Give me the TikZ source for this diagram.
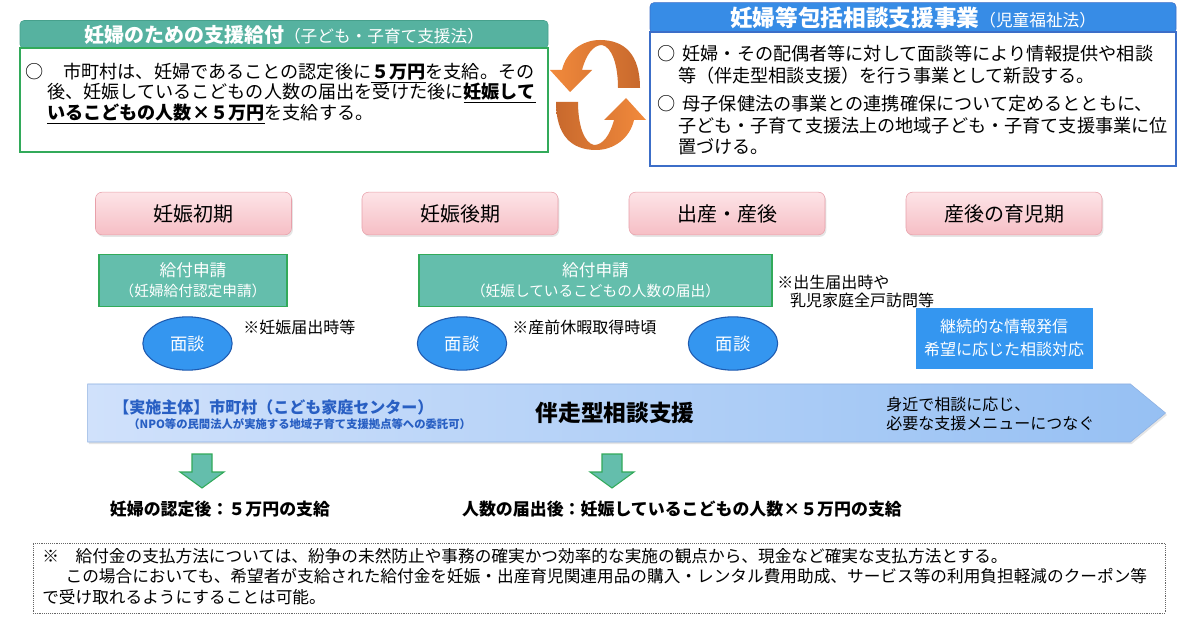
\documentclass[tikz,border=0pt]{standalone}
\usepackage{tikz}
\usepackage{xcolor}
\usepackage{fontspec}
\setmainfont{Noto Sans CJK JP}
\usetikzlibrary{calc}
\usetikzlibrary{shapes}
\usetikzlibrary{shadows}

\definecolor{tealhead}{RGB}{86,178,160}
\definecolor{tealline}{RGB}{70,160,140}
\definecolor{greenline}{RGB}{50,170,90}
\definecolor{bluehead}{RGB}{55,140,230}
\definecolor{blueline}{RGB}{60,110,200}
\definecolor{pinktop}{RGB}{253,228,231}
\definecolor{pinkbot}{RGB}{246,190,197}
\definecolor{pinkline}{RGB}{232,160,170}
\definecolor{applyfill}{RGB}{100,190,172}
\definecolor{talkfill}{RGB}{52,150,240}
\definecolor{talkline}{RGB}{30,90,175}
\definecolor{flowleft}{RGB}{208,225,251}
\definecolor{flowright}{RGB}{150,192,243}
\definecolor{flowline}{RGB}{140,175,225}
\definecolor{bluetext}{RGB}{40,95,195}
\definecolor{orangedark}{RGB}{200,105,45}
\definecolor{orangelight}{RGB}{242,138,60}

\begin{document}
\begin{tikzpicture}
    [x=0.75pt, y=-0.75pt,
     head/.style={rectangle, rounded corners=3pt, text=white, minimum height=20.5pt},
     body/.style={rectangle, fill=white, thick, minimum width=396pt},
     phase/.style={rectangle, rounded corners=5pt, draw=pinkline, top color=pinktop, bottom color=pinkbot, minimum width=147pt, minimum height=32pt, font=\fontsize{15}{17}\selectfont, drop shadow={opacity=0.2, shadow xshift=1pt, shadow yshift=-1.5pt}},
     apply/.style={rectangle, draw=greenline, thick, fill=applyfill, text=white, align=center, minimum height=39.5pt, font=\fontsize{12.5}{15}\selectfont},
     talk/.style={ellipse, draw=talkline, thick, fill=talkfill, text=white, minimum width=67pt, minimum height=40pt, inner sep=0pt, font=\fontsize{13}{15}\selectfont},
     note/.style={inner sep=0pt, font=\fontsize{12}{13}\selectfont},
     result/.style={inner sep=0pt, font=\fontsize{12.7}{15}\selectfont\bfseries},
     down/.style={draw=greenline, thick, fill=applyfill}]

    \fill[white] (0,0) rectangle (1200,620);
    \useasboundingbox (0,0) rectangle (1200,620);

    \node[head, fill=tealhead, draw=tealline, minimum width=396pt] (payhead) at (284,34.5) {\fontsize{15}{17}\selectfont\bfseries 妊婦のための支援給付\fontsize{12.5}{14}\selectfont\mdseries （子ども・子育て支援法）};
    \node[body, draw=greenline, minimum height=78pt] (paybody) at (284,100) {};
    \node[anchor=north west, align=left, inner sep=0pt, font=\fontsize{13.6}{15}\selectfont] (paytext) at (25,63) {○\hspace{1.1em}市町村は、妊婦であることの認定後に\underline{\textbf{５万円}}を支給。その\\\hspace*{1.2em}後、妊娠しているこどもの人数の届出を受けた後に\underline{\textbf{妊娠して}}\\\hspace*{1.2em}\underline{\textbf{いるこどもの人数×５万円}}を支給する。};

    \node[head, fill=bluehead, draw=blueline, minimum width=394.5pt, minimum height=21pt] (carehead) at (913,18) {\fontsize{17}{19}\selectfont\bfseries 妊婦等包括相談支援事業\fontsize{12.5}{14}\selectfont\mdseries （児童福祉法）};
    \node[body, draw=blueline, minimum width=394.5pt, minimum height=100.5pt] (carebody) at (913,99) {};
    \node[anchor=north west, align=left, inner sep=0pt, font=\fontsize{13.6}{16.1}\selectfont] (caretext) at (657,45) {○\hspace{0.4em}妊婦・その配偶者等に対して面談等により情報提供や相談\\\hspace*{1.15em}等（伴走型相談支援）を行う事業として新設する。\\[5.6pt]○\hspace{0.4em}母子保健法の事業との連携確保について定めるとともに、\\\hspace*{1.15em}子ども・子育て支援法上の地域子ども・子育て支援事業に位\\\hspace*{1.15em}置づける。};

    \shade[left color=orangelight, right color=orangedark] (640,88) .. controls (640,55) and (625,40) .. (600,40) .. controls (582,40) and (566,52) .. (562,70) -- (550,70) -- (570,92) -- (592,70) -- (582,70) .. controls (586,55) and (593,45) .. (602,45) .. controls (612,47) and (618,65) .. (618,88) -- cycle;
    \shade[left color=orangedark, right color=orangelight] (556,102) .. controls (556,135) and (571,150) .. (596,150) .. controls (614,150) and (630,138) .. (634,120) -- (646,120) -- (626,98) -- (604,120) -- (614,120) .. controls (610,135) and (603,145) .. (594,145) .. controls (584,143) and (578,125) .. (578,102) -- cycle;

    \foreach \x/\t/\n in {193.5/妊娠初期/early,460/妊娠後期/late,727/出産・産後/birth,1004/産後の育児期/later}{
        \node[phase] (\n) at (\x,213.5) {\t};
    }

    \node[apply, minimum width=141pt] (apply1) at (193,280.5) {給付申請\\{\fontsize{11}{13}\selectfont（妊婦給付認定申請）}};
    \node[apply, minimum width=264.75pt] (apply2) at (595.5,280.5) {給付申請\\{\fontsize{11}{13}\selectfont（妊娠しているこどもの人数の届出）}};

    \foreach \x/\n in {187.5/1,462/2,733/3}{
        \node[talk] (talk\n) at (\x,343.5) {面談};
    }

    \node[note, anchor=west] (note1) at (243,327) {※妊娠届出時等};
    \node[note, anchor=west] (note2) at (512,327) {※産前休暇取得時頃};
    \node[note, anchor=north west, align=left] (note3) at (777,275) {※出生届出時や\\\hspace*{0.8em}乳児家庭全戸訪問等};

    \node[rectangle, draw=talkfill, fill=talkfill, text=white, align=center, minimum width=132pt, minimum height=45pt, font=\fontsize{12}{17}\selectfont] (info) at (1004,338) {継続的な情報発信\\希望に応じた相談対応};

    \node[signal, signal to=east, signal pointer angle=79, draw=flowline, left color=flowleft, right color=flowright, minimum width=808.5pt, minimum height=43.5pt, drop shadow={opacity=0.2, shadow xshift=1pt, shadow yshift=-1.5pt}] (flow) at (609,413) {};
    \node[anchor=west, inner sep=0pt, text=bluetext, font=\fontsize{12}{14}\selectfont\bfseries] (actor) at (113,407) {【実施主体】市町村（こども家庭センター）};
    \node[anchor=west, inner sep=0pt, text=bluetext, font=\fontsize{8.5}{10}\selectfont\bfseries] (actorsub) at (128,424) {（NPO等の民間法人が実施する地域子育て支援拠点等への委託可）};
    \node[font=\fontsize{17}{20}\selectfont\bfseries] (flowtitle) at (615,413) {伴走型相談支援};
    \node[anchor=west, align=left, inner sep=0pt, font=\fontsize{12}{14}\selectfont] (flownote) at (886,414) {身近で相談に応じ、\\必要な支援メニューにつなぐ};

    \foreach \x in {202,612}{
        \draw[down] (\x-10,454) -- (\x+10,454) -- (\x+10,472) -- (\x+22,472) -- (\x,488) -- (\x-22,472) -- (\x-10,472) -- cycle;
    }

    \node[result] (res1) at (220,509) {妊婦の認定後：５万円の支給};
    \node[result] (res2) at (682,509) {人数の届出後：妊娠しているこどもの人数×５万円の支給};

    \node[rectangle, draw=black!60, densely dotted, minimum width=849pt, minimum height=52.5pt] (paybox) at (599,578) {};
    \node[anchor=north west, align=left, inner sep=0pt, font=\fontsize{12.5}{15.4}\selectfont] (paynote) at (42,548) {※\hspace{1em}給付金の支払方法については、紛争の未然防止や事務の確実かつ効率的な実施の観点から、現金など確実な支払方法とする。\\\hspace*{1.4em}この場合においても、希望者が支給された給付金を妊娠・出産育児関連用品の購入・レンタル費用助成、サービス等の利用負担軽減のクーポン等\\で受け取れるようにすることは可能。};
\end{tikzpicture}
\end{document}
